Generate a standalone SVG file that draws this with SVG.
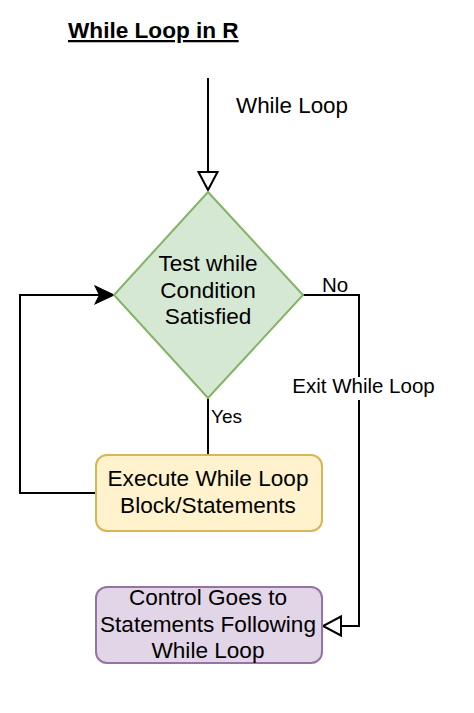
<svg xmlns="http://www.w3.org/2000/svg" width="474" height="713" viewBox="0 0 474 713">
<style>
text{font-family:"Liberation Sans",Arial,sans-serif;fill:#000}
.t{font-size:22.6px;text-anchor:middle}
.lbl{font-size:20.5px}
.edge{fill:none;stroke:#000;stroke-width:2}
</style>
<defs>
<marker id="open" markerUnits="userSpaceOnUse" markerWidth="22" markerHeight="22" viewBox="-1 -1 21 22" refX="18" refY="9.5" orient="auto" overflow="visible">
<path d="M0,0 L18,9.5 L0,19 Z" fill="#fff" stroke="#000" stroke-width="2"/>
</marker>
<marker id="classic" markerUnits="userSpaceOnUse" markerWidth="20" markerHeight="20" viewBox="0 0 18 16" refX="17" refY="8" orient="auto" overflow="visible">
<path d="M0,0 L17,8 L0,16 L4,8 Z" fill="#000" stroke="#000" stroke-width="1"/>
</marker>
</defs>
<rect width="474" height="713" fill="#fff"/>
<text x="68" y="38" style="font-size:22.6px;font-weight:bold;text-decoration:underline">While Loop in R</text>
<g id="connectors">
<path class="edge" d="M208,78 L208,190" marker-end="url(#open)"/>
<text x="236" y="113" style="font-size:22.4px">While Loop</text>
<path class="edge" d="M96,493 L20,493 L20,295 L114,295" marker-end="url(#classic)"/>
<path class="edge" d="M303,295 L359,295 L359,626 L323,626" marker-end="url(#open)"/>
<text x="322" y="292" class="lbl">No</text>
<rect x="290" y="377" width="148" height="23" fill="#fff"/>
<text x="363.5" y="393" class="lbl" text-anchor="middle">Exit While Loop</text>
<path class="edge" d="M208,398 L208,455"/>
<text x="211" y="423" style="font-size:19px">Yes</text>
</g>
<g id="test">
<path d="M208,192 L303,295 L208,398 L114,295 Z" fill="#d5e8d4" stroke="#82b366" stroke-width="2"/>
<text class="t" x="208" y="271">Test while</text>
<text class="t" x="208" y="298">Condition</text>
<text class="t" x="208" y="324">Satisfied</text>
</g>
<g id="execute">
<rect x="96" y="455" width="226" height="76" rx="11" fill="#fff2cc" stroke="#d6b656" stroke-width="2"/>
<text class="t" x="208" y="486">Execute While Loop</text>
<text class="t" x="208" y="513">Block/Statements</text>
</g>
<g id="control">
<rect x="96" y="587" width="226" height="76" rx="11" fill="#e1d5e7" stroke="#9673a6" stroke-width="2"/>
<text class="t" x="208" y="605">Control Goes to</text>
<text class="t" x="208" y="632">Statements Following</text>
<text class="t" x="208" y="658">While Loop</text>
</g>
</svg>
